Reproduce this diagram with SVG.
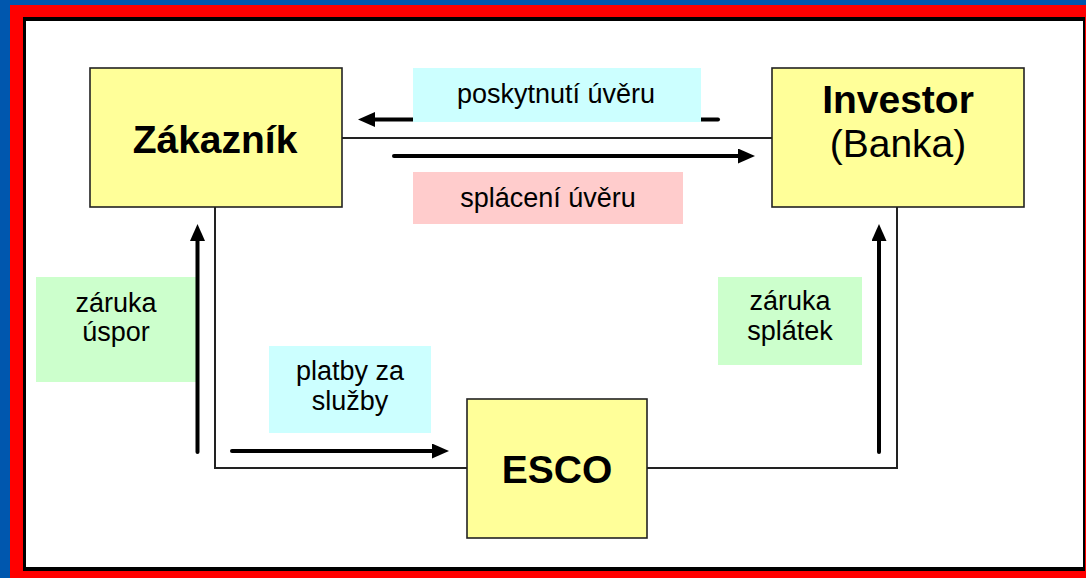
<svg xmlns="http://www.w3.org/2000/svg" width="1086" height="578" viewBox="0 0 1086 578">
  <style>
    .box { fill: #FFFF99; stroke: #222; stroke-width: 1.6; }
    .title { font-family: "Liberation Sans", Arial, sans-serif; font-size: 39px; font-weight: bold; fill: #000; text-anchor: middle; }
    .sub { font-family: "Liberation Sans", Arial, sans-serif; font-size: 39px; fill: #000; text-anchor: middle; }
    .lbl { font-family: "Liberation Sans", Arial, sans-serif; font-size: 27px; fill: #000; text-anchor: middle; }
    .conn { fill: none; stroke: #222; stroke-width: 2; }
    .arrow { fill: none; stroke: #000; stroke-width: 4; stroke-linecap: round; marker-end: url(#head); }
  </style>
  <defs>
    <marker id="head" markerUnits="userSpaceOnUse" markerWidth="17" markerHeight="15" refX="5" refY="7.5" orient="auto">
      <path d="M0,0 L17,7.5 L0,15 z" fill="#000"/>
    </marker>
  </defs>

  <g id="frame">
    <rect x="0" y="0" width="1086" height="578" fill="#0057AE"/>
    <rect x="10" y="5" width="1076" height="573" fill="#FF0000"/>
    <rect x="23" y="17" width="1062" height="554" fill="#000"/>
    <rect x="26" y="21" width="1057" height="546" fill="#FFFFFF"/>
  </g>

  <g id="connectors">
    <line class="conn" x1="342" y1="138" x2="772" y2="138"/>
    <polyline class="conn" points="215,207 215,468 467,468"/>
    <polyline class="conn" points="647,468 897,468 897,207"/>
    <line class="arrow" x1="718" y1="119.5" x2="370" y2="119.5"/>
    <line class="arrow" x1="394" y1="156" x2="743" y2="156"/>
    <line class="arrow" x1="232" y1="451" x2="437" y2="451"/>
    <line class="arrow" x1="879" y1="452" x2="879" y2="236"/>
  </g>

  <g id="label-poskytnuti">
    <rect x="413" y="68" width="288" height="54" fill="#CCFFFF"/>
    <text class="lbl" x="556" y="103">poskytnutí úvěru</text>
  </g>
  <g id="label-splaceni">
    <rect x="413" y="172" width="270" height="52" fill="#FFCCCC"/>
    <text class="lbl" x="548" y="207">splácení úvěru</text>
  </g>
  <g id="label-zaruka-uspor">
    <rect x="36" y="277" width="161" height="105" fill="#CCFFCC"/>
    <text class="lbl" x="116" y="312">záruka</text>
    <text class="lbl" x="116" y="341">úspor</text>
  </g>
  <g id="arrow-left">
    <line class="arrow" x1="197.5" y1="452" x2="197.5" y2="236"/>
  </g>
  <g id="label-zaruka-splatek">
    <rect x="718" y="277" width="144" height="88" fill="#CCFFCC"/>
    <text class="lbl" x="790" y="310">záruka</text>
    <text class="lbl" x="790" y="340">splátek</text>
  </g>
  <g id="label-platby">
    <rect x="269" y="346" width="162" height="87" fill="#CCFFFF"/>
    <text class="lbl" x="350" y="380">platby za</text>
    <text class="lbl" x="350" y="410">služby</text>
  </g>

  <g id="node-zakaznik">
    <rect class="box" x="90" y="68" width="252" height="139"/>
    <text class="title" x="215" y="153">Zákazník</text>
  </g>
  <g id="node-investor">
    <rect class="box" x="772" y="68" width="252" height="139"/>
    <text class="title" x="898" y="113">Investor</text>
    <text class="sub" x="898" y="157">(Banka)</text>
  </g>
  <g id="node-esco">
    <rect class="box" x="467" y="399" width="180" height="139"/>
    <text class="title" x="557" y="483">ESCO</text>
  </g>
</svg>
